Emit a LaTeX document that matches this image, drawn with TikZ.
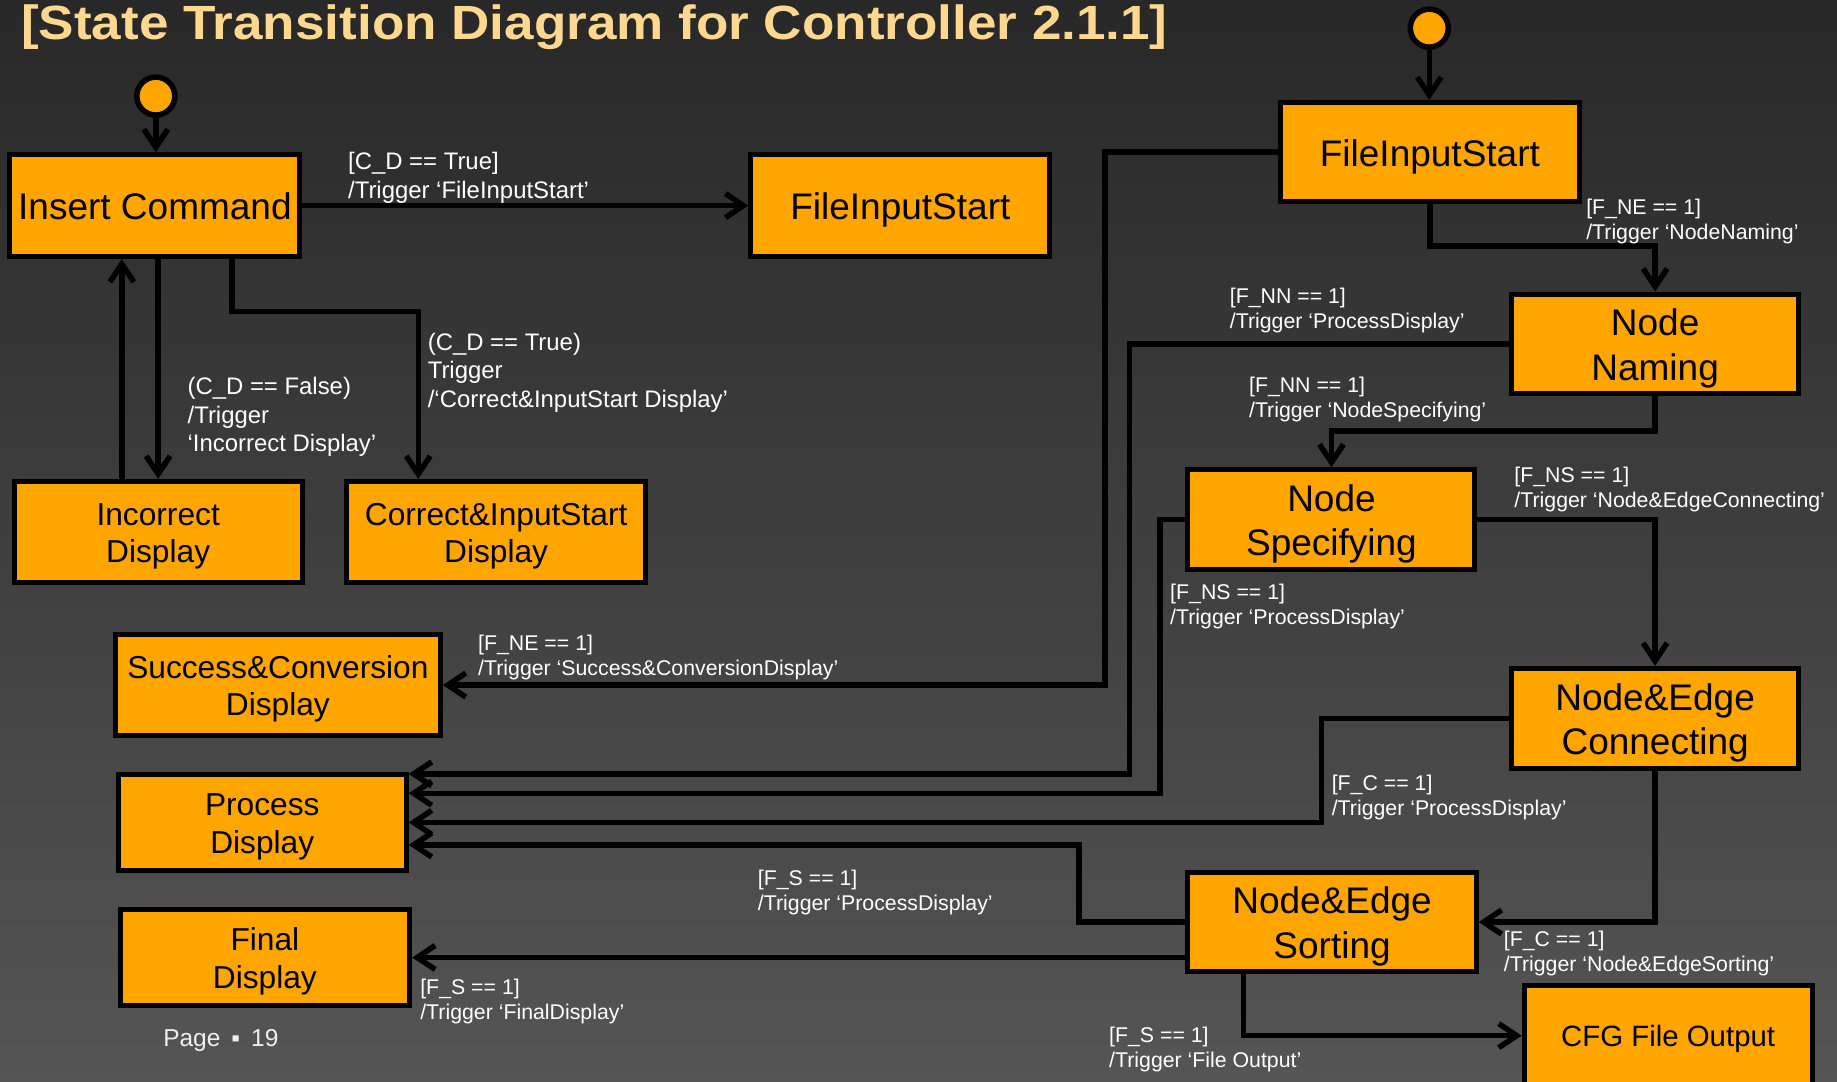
\documentclass[tikz,border=0pt]{standalone}
\usepackage{fontspec}
\usepackage{graphicx}
\setmainfont{Liberation Sans}
\usetikzlibrary{arrows.meta}
\definecolor{boxorange}{HTML}{FFA500}
\definecolor{titlecol}{HTML}{FFD890}
\definecolor{bgtop}{HTML}{282828}
\definecolor{bgbot}{HTML}{555555}
\definecolor{pagecol}{HTML}{EEEEEE}
% fixed line extents so that state texts sit optically centred
\newcommand{\sttop}{\rule{0pt}{1em}}
\newcommand{\stbot}{\rule[-0.24em]{0pt}{0.24em}}

\begin{document}
\begin{tikzpicture}[x=1.1716pt,y=-1.1716pt,
  state/.style={draw=black, fill=boxorange, line width=5pt, inner sep=0pt, align=center, text=black, rectangle},
  big/.style={state, font=\fontsize{37}{44.5}\selectfont},
  small/.style={state, font=\fontsize{31.7}{37.5}\selectfont},
  dims/.style n args={2}{minimum width=#1, minimum height=#2},
  startc/.style={circle, draw=black, fill=boxorange, line width=5.5pt, minimum size=38pt, inner sep=0pt},
  arr/.style={draw=black, line width=5.5pt, -{Straight Barb[length=18pt,width=24pt]}},
  cdlab/.style={anchor=west, inner sep=0pt, align=left, text=white, font=\fontsize{23.9}{28.7}\selectfont},
  flab/.style={anchor=west, inner sep=0pt, align=left, text=white, font=\fontsize{21.3}{25.2}\selectfont},
]
% frame and background
\useasboundingbox (0,0) rectangle (1568,923);
\clip (0,0) rectangle (1568,923);
\shade[top color=bgtop, bottom color=bgbot] (0,0) rectangle (1568,923);

% title and page number
\node[anchor=base west, inner sep=0pt, text=titlecol, font=\bfseries\fontsize{48}{56}\selectfont] (title) at (18,33.3)
  {\scalebox{1.105}[1]{[State Transition Diagram for Controller 2.1.1]}};
\node[anchor=west, inner sep=0pt, text=pagecol, font=\fontsize{24.5}{29}\selectfont] (page) at (139.2,888)
  {Page\hspace{11pt}▪\hspace{11pt}19};

% initial states
\node[startc] (s1) at (133,82) {};
\node[startc] (s2) at (1220,24) {};

% states
\node[big, dims={290pt}{101.9pt}] (ic) at (132.25,175.5) {\sttop Insert Command\stbot};
\node[big, dims={298.8pt}{101.9pt}] (fisA) at (768.5,175.5) {\sttop FileInputStart\stbot};
\node[small, dims={288.2pt}{100.8pt}] (incd) at (135,454) {\sttop Incorrect\\Display\stbot};
\node[small, dims={298.8pt}{100.8pt}] (corr) at (423.5,454) {\sttop Correct\&InputStart\\Display\stbot};
\node[big, dims={298.8pt}{99pt}] (fisB) at (1220.5,129.75) {\sttop FileInputStart\stbot};
\node[big, dims={287.6pt}{99.6pt}] (nn) at (1412.75,293.5) {\sttop Node\\Naming\stbot};
\node[big, dims={287pt}{99.6pt}] (ns) at (1136.5,443.5) {\sttop Node\\Specifying\stbot};
\node[big, dims={286.5pt}{99.8pt}] (nec) at (1412.75,613.1) {\sttop Node\&Edge\\Connecting\stbot};
\node[big, dims={288.2pt}{99.5pt}] (nes) at (1137,787.05) {\sttop Node\&Edge\\Sorting\stbot};
\node[state, font=\fontsize{29.4}{35}\selectfont, dims={287.9pt}{100.8pt}] (cfg) at (1423.85,884) {\sttop CFG File Output\stbot};
\node[small, dims={324.8pt}{100.2pt}] (succ) at (237.2,584.75) {\sttop Success\&Conversion\\Display\stbot};
\node[small, dims={287.9pt}{96.1pt}] (proc) at (223.85,702) {\sttop Process\\Display\stbot};
\node[small, dims={289.6pt}{96.7pt}] (fin) at (226.1,817.25) {\sttop Final\\Display\stbot};

% routing points
\coordinate (cUp) at (104,0);
\coordinate (cDn) at (135,0);
\coordinate (k1) at (198,266);
\coordinate (k2) at (357,266);
\coordinate (j1) at (0,210);
\coordinate (j2) at (0,368);
\coordinate (v1) at (943,584.75);
\coordinate (v2) at (964,660.6);
\coordinate (v3) at (990,677.1);
\coordinate (v4) at (1128,702);
\coordinate (v5) at (921,721.2);
\coordinate (v6) at (1061.6,0);

% transitions
\draw[arr] (s1.south) -- (s1.south |- ic.north);
\draw[arr] (s2.south) -- (s2.south |- fisB.north);
\draw[arr] (ic.east) -- (fisA.west);
\draw[arr] (incd.north -| cUp) -- (ic.south -| cUp);
\draw[arr] (ic.south -| cDn) -- (incd.north -| cDn);
\draw[arr] (ic.south -| k1) -- (k1) -- (k2) -- (corr.north -| k2);
\draw[arr] (fisB.south) -- (fisB.south |- j1) -| (nn.north);
\draw[arr] (fisB.west) -| (v1) -- (succ.east);
\draw[arr] (nn.west) -| (v2) -- (proc.east |- v2);
\draw[arr] (nn.south) -- (nn.south |- j2) -| (ns.north);
\draw[arr] (ns.east) -| (nec.north);
\draw[arr] (ns.west) -| (v3) -- (proc.east |- v3);
\draw[arr] (nec.west) -| (v4) -- (proc.east |- v4);
\draw[arr] (nec.south) |- (nes.east);
\draw[arr] (nes.west) -| (v5) -- (proc.east |- v5);
\draw[arr] (nes.west |- fin.east) -- (fin.east);
\draw[arr] (nes.south -| v6) |- (cfg.west);

% guard / action labels
\node[cdlab] (l1) at (297,152) {[C\_D == True]\\/Trigger ‘FileInputStart’};
\node[cdlab] (l2) at (160,356) {(C\_D == False)\\/Trigger\\‘Incorrect Display’};
\node[cdlab] (l3) at (365,318) {(C\_D == True)\\Trigger\\/‘Correct\&InputStart Display’};
\node[flab] (l4) at (1353.8,189.2) {[F\_NE == 1]\\/Trigger ‘NodeNaming’};
\node[flab] (l5) at (408,561) {[F\_NE == 1]\\/Trigger ‘Success\&ConversionDisplay’};
\node[flab] (l6) at (1049.6,265) {[F\_NN == 1]\\/Trigger ‘ProcessDisplay’};
\node[flab] (l7) at (1066,340.7) {[F\_NN == 1]\\/Trigger ‘NodeSpecifying’};
\node[flab] (l8) at (1292.5,418) {[F\_NS == 1]\\/Trigger ‘Node\&EdgeConnecting’};
\node[flab] (l9) at (998.7,518) {[F\_NS == 1]\\/Trigger ‘ProcessDisplay’};
\node[flab] (l10) at (1136.6,681) {[F\_C == 1]\\/Trigger ‘ProcessDisplay’};
\node[flab] (l11) at (1283.5,813.7) {[F\_C == 1]\\/Trigger ‘Node\&EdgeSorting’};
\node[flab] (l12) at (646.8,762) {[F\_S == 1]\\/Trigger ‘ProcessDisplay’};
\node[flab] (l13) at (358.6,854.7) {[F\_S == 1]\\/Trigger ‘FinalDisplay’};
\node[flab] (l14) at (946.6,896) {[F\_S == 1]\\/Trigger ‘File Output’};
\end{tikzpicture}
\end{document}
